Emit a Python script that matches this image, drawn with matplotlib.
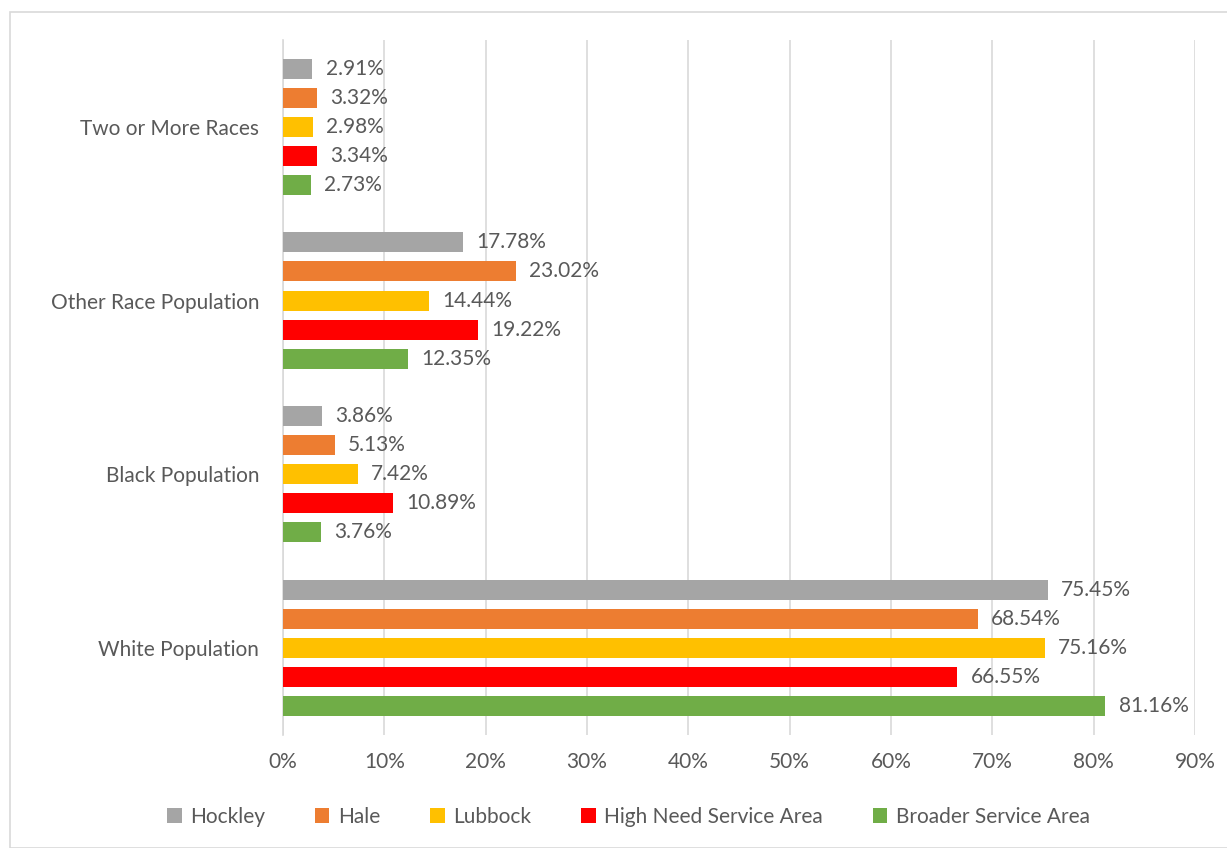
import numpy as np
import matplotlib.pyplot as plt
from matplotlib.patches import Rectangle

categories = ['White Population', 'Black Population', 'Other Race Population', 'Two or More Races']
series = ['Hockley', 'Hale', 'Lubbock', 'High Need Service Area', 'Broader Service Area']
colors = ['#A5A5A5', '#ED7D31', '#FFC000', '#FF0000', '#70AD47']

hockley = [75.45, 3.86, 17.78, 2.91]
hale = [68.54, 5.13, 23.02, 3.32]
lubbock = [75.16, 7.42, 14.44, 2.98]
high_need = [66.55, 10.89, 19.22, 3.34]
broader = [81.16, 3.76, 12.35, 2.73]
values = [hockley, hale, lubbock, high_need, broader]

plt.rcParams['font.family'] = ['Lato', 'DejaVu Sans']
txt = '#595959'

fig = plt.figure(figsize=(12.27, 8.48), dpi=100)
ax = fig.add_axes([0.2306, 0.1333, 0.7433, 0.8197])

# outer chart border
fig.patches.append(Rectangle((10 / 1227, 0), 1.2, 1 - 12 / 848, transform=fig.transFigure,
                             fill=False, edgecolor='#D9D9D9', linewidth=1.2))

y = np.arange(len(categories))
slot = 29 / 173.5
h = 20 / 173.5
for i, (name, vals, c) in enumerate(zip(series, values, colors)):
    pos = y + (2 - i) * slot
    ax.barh(pos, vals, height=h, color=c, label=name, zorder=3)
    for p, v in zip(pos, vals):
        ax.text(v + 1.3, p, f'{v:.2f}%', va='center', ha='left', fontsize=15, color=txt)

ax.set_xlim(0, 90)
ax.set_ylim(-0.5, 3.5)
ax.set_xticks(np.arange(0, 91, 10))
ax.set_xticklabels([f'{t}%' for t in range(0, 91, 10)])
ax.set_yticks(y)
ax.set_yticklabels(categories)
ax.tick_params(axis='both', length=0, labelsize=15, colors=txt)
ax.tick_params(axis='y', pad=17)
ax.tick_params(axis='x', pad=12)
ax.grid(axis='x', color='#D9D9D9', linewidth=1.2, zorder=0)
for s in ['top', 'right', 'bottom']:
    ax.spines[s].set_visible(False)
ax.spines['left'].set_color('#D9D9D9')
ax.spines['left'].set_linewidth(1.2)

fig.legend(loc='center', bbox_to_anchor=(0.512, 1 - 817 / 848), ncol=5,
           frameon=False, fontsize=15, labelcolor=txt, handlelength=0.7, handleheight=0.7,
           handletextpad=0.4, columnspacing=2.4)

fig.savefig('out.png', dpi=100)
